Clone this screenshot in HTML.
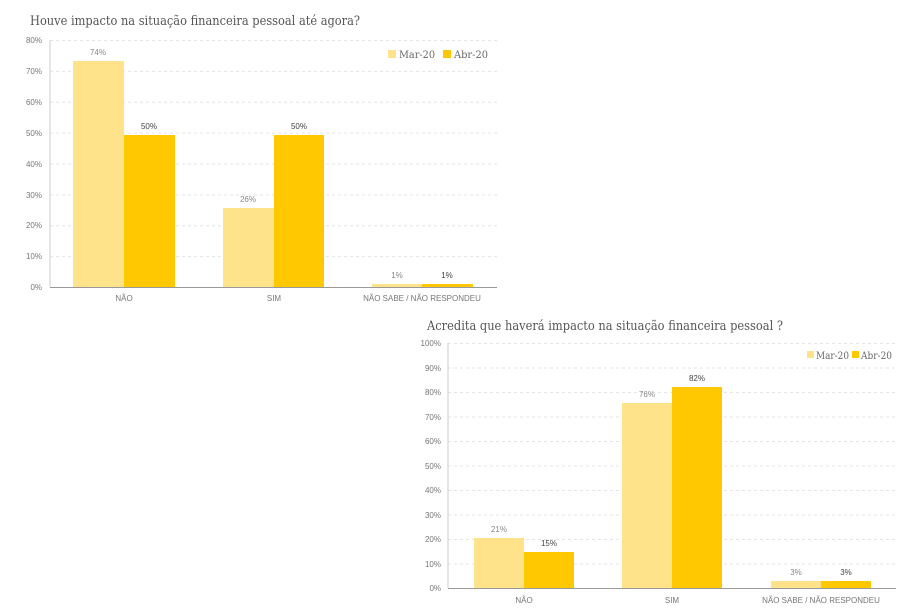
<!DOCTYPE html>
<html><head><meta charset="utf-8"><style>
body{margin:0;background:#fff;}
svg{display:block;font-family:"Liberation Sans",sans-serif;}
.t{font-family:"DejaVu Serif","Liberation Serif",serif;font-size:13px;fill:#555;}
.ax{font-size:8px;fill:#777;}
.lb{font-size:8px;fill:#888;text-anchor:middle;}
.lbd{font-size:8px;fill:#444;text-anchor:middle;}
.g{stroke:#e4e4e4;stroke-dasharray:3,3;stroke-width:1;}
.lg{font-family:"DejaVu Serif","Liberation Serif",serif;font-size:10px;fill:#666;}
</style></head><body>
<svg width="920" height="616" viewBox="0 0 920 616">
<!-- Chart 1 -->
<text class="t" x="30" y="25" textLength="330" lengthAdjust="spacingAndGlyphs">Houve impacto na situação financeira pessoal até agora?</text>
<g>
<line class="g" x1="50" x2="497" y1="40.5" y2="40.5"/>
<line class="g" x1="50" x2="497" y1="71.4" y2="71.4"/>
<line class="g" x1="50" x2="497" y1="102.3" y2="102.3"/>
<line class="g" x1="50" x2="497" y1="133.1" y2="133.1"/>
<line class="g" x1="50" x2="497" y1="164" y2="164"/>
<line class="g" x1="50" x2="497" y1="194.9" y2="194.9"/>
<line class="g" x1="50" x2="497" y1="225.8" y2="225.8"/>
<line class="g" x1="50" x2="497" y1="256.6" y2="256.6"/>
<line x1="50" x2="50" y1="40" y2="287" stroke="#ccc"/>
<text class="ax" x="42" y="43" text-anchor="end">80%</text>
<text class="ax" x="42" y="74" text-anchor="end">70%</text>
<text class="ax" x="42" y="105" text-anchor="end">60%</text>
<text class="ax" x="42" y="136" text-anchor="end">50%</text>
<text class="ax" x="42" y="167" text-anchor="end">40%</text>
<text class="ax" x="42" y="198" text-anchor="end">30%</text>
<text class="ax" x="42" y="228" text-anchor="end">20%</text>
<text class="ax" x="42" y="259" text-anchor="end">10%</text>
<text class="ax" x="42" y="290" text-anchor="end">0%</text>
<rect x="73" y="61" width="51" height="226" fill="#fee38a"/>
<rect x="124" y="135" width="51" height="152" fill="#ffc800"/>
<rect x="223" y="208" width="51" height="79" fill="#fee38a"/>
<rect x="274" y="135" width="50" height="152" fill="#ffc800"/>
<rect x="372" y="284" width="50" height="3" fill="#fee38a"/>
<rect x="422" y="284" width="51" height="3" fill="#ffc800"/>
<line x1="50" x2="497" y1="287.5" y2="287.5" stroke="#999"/>
<text class="lb" x="98" y="55">74%</text>
<text class="lbd" x="149" y="129">50%</text>
<text class="lb" x="248" y="202">26%</text>
<text class="lbd" x="299" y="129">50%</text>
<text class="lb" x="397" y="278">1%</text>
<text class="lbd" x="447" y="278">1%</text>
<text class="ax" x="124" y="301" text-anchor="middle">NÃO</text>
<text class="ax" x="274" y="301" text-anchor="middle">SIM</text>
<text class="ax" x="422" y="301" text-anchor="middle">NÃO SABE / NÃO RESPONDEU</text>
<rect x="388" y="50" width="8" height="8" fill="#fee38a"/>
<text class="lg" x="399" y="58" textLength="36" lengthAdjust="spacingAndGlyphs">Mar-20</text>
<rect x="443" y="50" width="8" height="8" fill="#ffc800"/>
<text class="lg" x="454" y="58" textLength="34" lengthAdjust="spacingAndGlyphs">Abr-20</text>
</g>
<!-- Chart 2 -->
<text class="t" x="427" y="330" textLength="356" lengthAdjust="spacingAndGlyphs">Acredita que haverá impacto na situação financeira pessoal ?</text>
<g>
<line class="g" x1="448" x2="896" y1="343.5" y2="343.5"/>
<line class="g" x1="448" x2="896" y1="368" y2="368"/>
<line class="g" x1="448" x2="896" y1="392.5" y2="392.5"/>
<line class="g" x1="448" x2="896" y1="417" y2="417"/>
<line class="g" x1="448" x2="896" y1="441.5" y2="441.5"/>
<line class="g" x1="448" x2="896" y1="466" y2="466"/>
<line class="g" x1="448" x2="896" y1="490.5" y2="490.5"/>
<line class="g" x1="448" x2="896" y1="515" y2="515"/>
<line class="g" x1="448" x2="896" y1="539.5" y2="539.5"/>
<line class="g" x1="448" x2="896" y1="564" y2="564"/>
<line x1="448" x2="448" y1="343" y2="588" stroke="#ccc"/>
<text class="ax" x="441" y="346" text-anchor="end">100%</text>
<text class="ax" x="441" y="371" text-anchor="end">90%</text>
<text class="ax" x="441" y="395" text-anchor="end">80%</text>
<text class="ax" x="441" y="420" text-anchor="end">70%</text>
<text class="ax" x="441" y="444" text-anchor="end">60%</text>
<text class="ax" x="441" y="469" text-anchor="end">50%</text>
<text class="ax" x="441" y="493" text-anchor="end">40%</text>
<text class="ax" x="441" y="518" text-anchor="end">30%</text>
<text class="ax" x="441" y="542" text-anchor="end">20%</text>
<text class="ax" x="441" y="567" text-anchor="end">10%</text>
<text class="ax" x="441" y="591" text-anchor="end">0%</text>
<rect x="474" y="538" width="50" height="50" fill="#fee38a"/>
<rect x="524" y="552" width="50" height="36" fill="#ffc800"/>
<rect x="622" y="403" width="50" height="185" fill="#fee38a"/>
<rect x="672" y="387" width="50" height="201" fill="#ffc800"/>
<rect x="771" y="581" width="50" height="7" fill="#fee38a"/>
<rect x="821" y="581" width="50" height="7" fill="#ffc800"/>
<line x1="448" x2="896" y1="588.5" y2="588.5" stroke="#999"/>
<text class="lb" x="499" y="532">21%</text>
<text class="lbd" x="549" y="546">15%</text>
<text class="lb" x="647" y="397">76%</text>
<text class="lbd" x="697" y="381">82%</text>
<text class="lb" x="796" y="575">3%</text>
<text class="lbd" x="846" y="575">3%</text>
<text class="ax" x="524" y="603" text-anchor="middle">NÃO</text>
<text class="ax" x="672" y="603" text-anchor="middle">SIM</text>
<text class="ax" x="821" y="603" text-anchor="middle">NÃO SABE / NÃO RESPONDEU</text>
<rect x="807" y="351" width="7" height="7" fill="#fee38a"/>
<text class="lg" x="816" y="359" textLength="33" lengthAdjust="spacingAndGlyphs">Mar-20</text>
<rect x="852" y="351" width="7" height="7" fill="#ffc800"/>
<text class="lg" x="861" y="359" textLength="31" lengthAdjust="spacingAndGlyphs">Abr-20</text>
</g>
</svg>
</body></html>
